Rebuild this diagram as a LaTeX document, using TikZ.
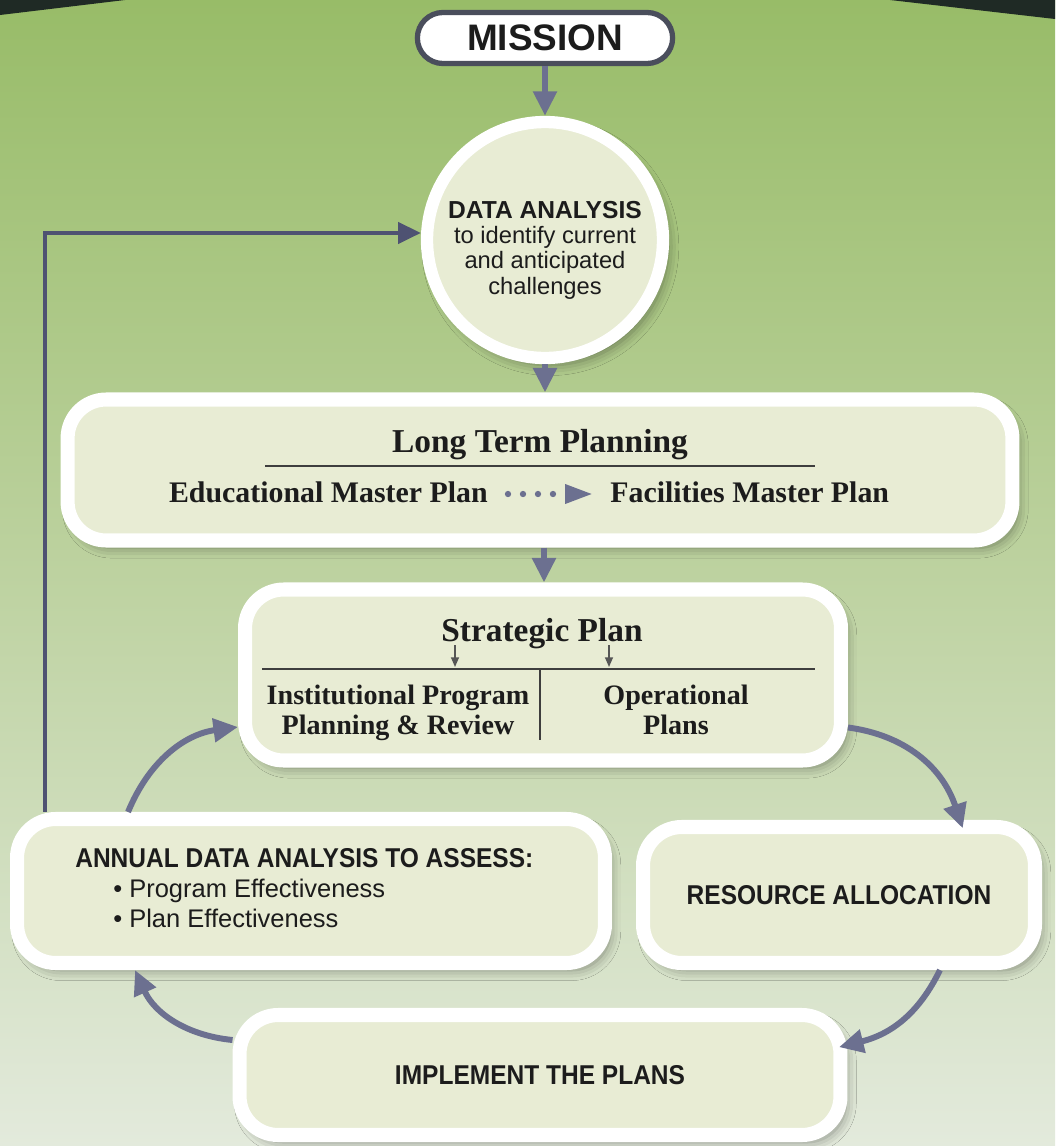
\documentclass[tikz,border=0pt]{standalone}
\usepackage{fontspec}
\setmainfont{Liberation Sans}
\newfontfamily\condsans{Liberation Sans}[FakeStretch=0.9]
\newfontfamily\planfont{Liberation Serif}
\usepackage{tikz}
\usetikzlibrary{positioning, calc, arrows.meta, shapes.misc, shadows.blur}
\tikzset{>=latex}
\definecolor{bgtop}{HTML}{98BC68}
\definecolor{bgmid}{HTML}{BDD2A0}
\definecolor{bgbottom}{HTML}{E3EADC}
\definecolor{boxfill}{HTML}{E8ECD4}
\definecolor{flowgray}{HTML}{6C7090}
\definecolor{feedgray}{HTML}{4E5272}
\definecolor{inkdark}{HTML}{1C1C1C}
\definecolor{rimgray}{HTML}{4A4E5C}
\definecolor{cornerdark}{HTML}{1F2A25}

\begin{document}
\begin{tikzpicture}[x=0.02cm,y=-0.02cm,
    softshadow/.style={blur shadow={shadow xshift=3pt,shadow yshift=-4pt,shadow opacity=40,shadow blur radius=6pt}},
    box/.style={draw=white,line width=8pt,fill=boxfill,rounded corners=22pt,softshadow},
    flow/.style={draw=flowgray,line width=3.4pt,-{Triangle[width=13pt,length=14pt]}},
    feedback/.style={draw=feedgray,line width=2.3pt,-{Triangle[width=12pt,length=13pt]}},
    rule/.style={draw=inkdark!85,line width=1.1pt},
    subarrow/.style={draw=inkdark!75,line width=0.9pt,-{Triangle[width=4.5pt,length=5.5pt]}},
    dotflow/.style={draw=flowgray,line width=3.6pt,line cap=round,dash pattern=on 0pt off 0.3cm,
        -{Triangle[width=0.36cm,length=0.56cm]}},
    capsbold/.style={font=\condsans\bfseries\fontsize{15.5}{18}\selectfont,text=inkdark},
    capsplain/.style={font=\fontsize{14.5}{17}\selectfont,text=inkdark,inner sep=0pt},
    serifhead/.style={font=\planfont\bfseries\fontsize{19}{22}\selectfont,text=inkdark,inner sep=0pt},
    seriftext/.style={font=\planfont\bfseries\fontsize{16}{17}\selectfont,text=inkdark,inner sep=0pt,align=center},
    ]
    \useasboundingbox (0,0) rectangle (1055,1146);
    \shade[top color=bgtop,bottom color=bgbottom,middle color=bgmid] (0,0) rectangle (1055,1146);
    \fill[cornerdark] (0,0) -- (125,0) -- (0,15) -- cycle;
    \fill[cornerdark] (890,0) -- (1055,0) -- (1055,19) -- cycle;

    % mission and first analysis
    \node[draw=rimgray,line width=3pt,fill=white,rounded rectangle,minimum width=5.34cm,minimum height=1.02cm,
        font=\bfseries\fontsize{21}{24}\selectfont,text=inkdark] (mission) at (545,38) {MISSION};
    \node[circle,draw=white,line width=7pt,fill=boxfill,minimum size=4.72cm,inner sep=0pt,softshadow] (data) at (545,240) {};
    \node[align=center,font=\fontsize{13.5}{14.4}\selectfont,text=inkdark,inner sep=0pt] (data-text) at (545,250)
        {{\bfseries\fontsize{14}{14.4}\selectfont DATA ANALYSIS}\\to identify current\\and anticipated\\challenges};

    % long term planning
    \node[box,minimum width=18.9cm,minimum height=2.82cm] (ltp) at (540,470) {};
    \node[serifhead,anchor=base] (ltp-title) at (540,452) {Long Term Planning};
    \coordinate (ltp-rule-l) at (265,466);
    \coordinate (ltp-rule-r) at (815,466);
    \draw[rule] (ltp-rule-l) -- (ltp-rule-r);
    \node[seriftext,font=\planfont\bfseries\fontsize{17}{20}\selectfont,anchor=base east] (emp) at (488,502) {Educational Master Plan};
    \node[seriftext,font=\planfont\bfseries\fontsize{17}{20}\selectfont,anchor=base west] (fmp) at (610,502) {Facilities Master Plan};
    \draw[dotflow] ([xshift=0.4cm,yshift=0.16cm]emp.base east) -- ([xshift=-0.34cm,yshift=0.16cm]fmp.base west);

    % strategic plan
    \node[box,minimum width=11.92cm,minimum height=3.42cm] (sp) at (543,675) {};
    \node[serifhead,anchor=base] (sp-title) at (542,641) {Strategic Plan};
    \coordinate (sp-rule-l) at (262,669);
    \coordinate (sp-rule-r) at (815,669);
    \coordinate (sp-split-t) at (540,669);
    \coordinate (sp-split-b) at (540,740);
    \draw[rule] (sp-rule-l) -- (sp-rule-r);
    \draw[rule] (sp-split-t) -- (sp-split-b);
    \coordinate (ipr-from) at (455,645);
    \coordinate (ipr-to) at (455,667);
    \coordinate (op-from) at (609,645);
    \coordinate (op-to) at (609,667);
    \draw[subarrow] (ipr-from) -- (ipr-to);
    \draw[subarrow] (op-from) -- (op-to);
    \node[seriftext] (ipr) at (398,713) {Institutional Program\\Planning \& Review};
    \node[seriftext] (op) at (676,710) {Operational\\Plans};

    % yearly cycle
    \node[box,minimum width=11.76cm,minimum height=2.88cm] (ann) at (311,891) {};
    \node[capsbold,inner sep=0pt,anchor=base west] (ann-head) at (75,867) {ANNUAL DATA ANALYSIS TO ASSESS:};
    \node[capsplain,anchor=base west] (ann-prog) at (113,897) {\textbullet\ Program Effectiveness};
    \node[capsplain,anchor=base west] (ann-plan) at (113,927) {\textbullet\ Plan Effectiveness};
    \node[box,capsbold,minimum width=7.84cm,minimum height=2.72cm] (res) at (839,895) {RESOURCE ALLOCATION};
    \node[box,capsbold,minimum width=12.02cm,minimum height=2.4cm] (impl) at (540,1075) {IMPLEMENT THE PLANS};

    \path (mission.south) edge[flow] (data.north)
          (data.south) edge[flow] (data.south |- ltp.north)
          ([xshift=0.08cm]ltp.south) edge[flow] ([xshift=0.08cm]ltp.south |- sp.north);
    \draw[flow,shorten >=-5pt] ([yshift=-1.05cm]sp.east) to[bend left=32] ([xshift=2.42cm]res.north);
    \draw[flow,shorten >=-5pt] ([xshift=2.02cm]res.south) to[bend left=25] ([yshift=0.6cm]impl.east);
    \draw[flow] ([yshift=0.7cm]impl.west) to[bend left=30] ([xshift=-3.52cm]ann.south);
    \draw[flow] ([xshift=-3.66cm]ann.north) to[bend left=30] ([yshift=-1.04cm]sp.west);
    \draw[feedback] ([xshift=-5.32cm]ann.north) |- ([yshift=4pt]data.west);
\end{tikzpicture}
\end{document}
